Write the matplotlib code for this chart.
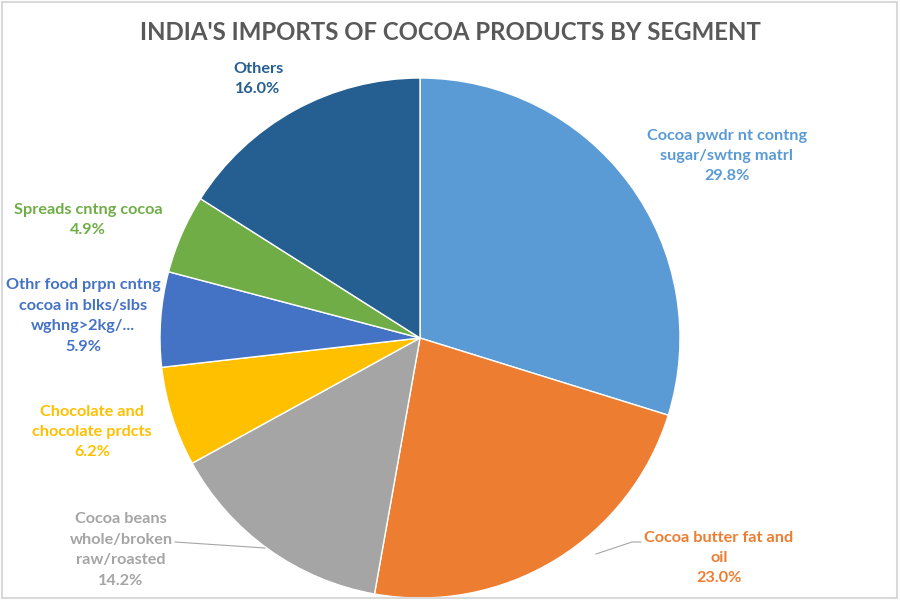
import matplotlib.pyplot as plt
from matplotlib.patches import Rectangle

segments = ['Cocoa pwdr nt contng\nsugar/swtng matrl',
            'Cocoa butter fat and\noil',
            'Cocoa beans\nwhole/broken\nraw/roasted',
            'Chocolate and\nchocolate prdcts',
            'Othr food prpn cntng\ncocoa in blks/slbs\nwghng>2kg/...',
            'Spreads cntng cocoa',
            'Others']
shares = [29.8, 23.0, 14.2, 6.2, 5.9, 4.9, 16.0]
colors = ['#5B9BD5', '#ED7D31', '#A5A5A5', '#FFC000', '#4472C4', '#70AD47', '#255E91']

# label centres in pixels (x, y from top)
label_px = [(727, 156), (719, 558), (121, 550), (92, 432), (83, 316), (88, 220), (258, 79)]

W, H = 900, 600
cx, cy, r = 420, 338, 260

fig = plt.figure(figsize=(9, 6), dpi=100)
fig.patches.append(Rectangle((0.002, 0.003), 0.995, 0.993, transform=fig.transFigure,
                             fill=False, edgecolor='#D9D9D9', linewidth=1.5))

ax = fig.add_axes([(cx - r) / W, (H - cy - r) / H, 2 * r / W, 2 * r / H])
ax.pie(shares, colors=colors, startangle=90, counterclock=False, radius=1,
       wedgeprops=dict(edgecolor='white', linewidth=1))
ax.set_xlim(-1, 1)
ax.set_ylim(-1, 1)
ax.set_aspect('equal')
ax.axis('off')


def to_data(px, py):
    return (px - cx) / r, (cy - py) / r


for name, val, col, (px, py) in zip(segments, shares, colors, label_px):
    x, y = to_data(px, py)
    ax.text(x, y, f'{name}\n{val:.1f}%', ha='center', va='center', color=col,
            fontsize=11.7, fontweight='bold', family='Lato', linespacing=1.58,
            clip_on=False)

# leader lines
lx, ly = zip(*[to_data(*p) for p in [(265, 548), (175, 542)]])
ax.plot(lx, ly, color='#A6A6A6', linewidth=0.8, clip_on=False)
lx, ly = zip(*[to_data(*p) for p in [(596, 554), (632, 542), (641, 542)]])
ax.plot(lx, ly, color='#A6A6A6', linewidth=0.8, clip_on=False)

fig.text(0.5, 1 - 32 / H, "INDIA'S IMPORTS OF COCOA PRODUCTS BY SEGMENT", ha='center', va='center',
         fontsize=17.3, fontweight='bold', family='Lato', color='#595959')

fig.savefig('out.png', dpi=100)
